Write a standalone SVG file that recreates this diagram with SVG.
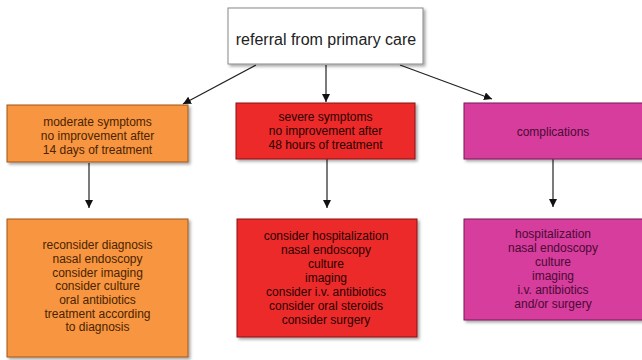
<svg xmlns="http://www.w3.org/2000/svg" width="642" height="360" viewBox="0 0 642 360">
<defs>
<filter id="sh" x="-10%" y="-10%" width="130%" height="130%">
<feDropShadow dx="2" dy="2" stdDeviation="1.5" flood-color="#000" flood-opacity="0.35"/>
</filter>
<marker id="ah" viewBox="0 0 10 10" refX="10" refY="5" markerWidth="8" markerHeight="8" markerUnits="userSpaceOnUse" orient="auto">
<path d="M0,0 L10,5 L0,10 z" fill="#111"/>
</marker>
</defs>
<style>
text{font-family:"Liberation Sans",Arial,sans-serif;text-anchor:middle}
.top rect{fill:#fff;stroke:#888;stroke-width:1}
.top text{font-size:16px;fill:#222}
.or rect{fill:#f7953f;stroke:#a0561a;stroke-width:1}
.or text{fill:#4a2300;font-size:12px}
.rd rect{fill:#ec2a2a;stroke:#8a1010;stroke-width:1}
.rd text{fill:#2a0000;font-size:12px}
.mg rect{fill:#d63c9c;stroke:#7a1a58;stroke-width:1}
.mg text{fill:#4a0a35;font-size:12px}
.conn line{stroke:#222;stroke-width:1.2;marker-end:url(#ah)}
</style>
<rect width="642" height="360" fill="#fff"/>
<g class="conn">
<line x1="256" y1="65" x2="183" y2="104"/>
<line x1="326" y1="65" x2="326" y2="102"/>
<line x1="400" y1="65" x2="492" y2="99"/>
<line x1="89" y1="163" x2="89" y2="208"/>
<line x1="327" y1="159" x2="327" y2="208"/>
<line x1="553" y1="159" x2="553" y2="207"/>
</g>
<g id="n0" class="top"><rect x="228" y="8" width="195" height="56" filter="url(#sh)"/><text x="326" y="45">referral from primary care</text></g>
<g id="n1" class="or"><rect x="7" y="105" width="181" height="57" filter="url(#sh)"/>
<text x="97.5" y="126">moderate symptoms</text><text x="97.5" y="140">no improvement after</text><text x="97.5" y="154">14 days of treatment</text></g>
<g id="n2" class="rd"><rect x="236" y="103" width="179" height="56" filter="url(#sh)"/>
<text x="325.5" y="121">severe symptoms</text><text x="325.5" y="135">no improvement after</text><text x="325.5" y="149">48 hours of treatment</text></g>
<g id="n3" class="mg"><rect x="464" y="103" width="180" height="56" filter="url(#sh)"/>
<text x="553" y="136">complications</text></g>
<g id="n4" class="or"><rect x="7" y="219" width="181" height="138" filter="url(#sh)"/>
<text x="97.5" y="249">reconsider diagnosis</text><text x="97.5" y="263">nasal endoscopy</text><text x="97.5" y="277">consider imaging</text><text x="97.5" y="290">consider culture</text><text x="97.5" y="304">oral antibiotics</text><text x="97.5" y="318">treatment according</text><text x="97.5" y="331">to diagnosis</text></g>
<g id="n5" class="rd"><rect x="237" y="219" width="180" height="118" filter="url(#sh)"/>
<text x="326" y="240">consider hospitalization</text><text x="326" y="254">nasal endoscopy</text><text x="326" y="268">culture</text><text x="326" y="282">imaging</text><text x="326" y="296">consider i.v. antibiotics</text><text x="326" y="310">consider oral steroids</text><text x="326" y="324">consider surgery</text></g>
<g id="n6" class="mg"><rect x="464" y="219" width="180" height="101" filter="url(#sh)"/>
<text x="553" y="238">hospitalization</text><text x="553" y="252">nasal endoscopy</text><text x="553" y="266">culture</text><text x="553" y="280">imaging</text><text x="553" y="294">i.v. antibiotics</text><text x="553" y="308">and/or surgery</text></g>
</svg>
